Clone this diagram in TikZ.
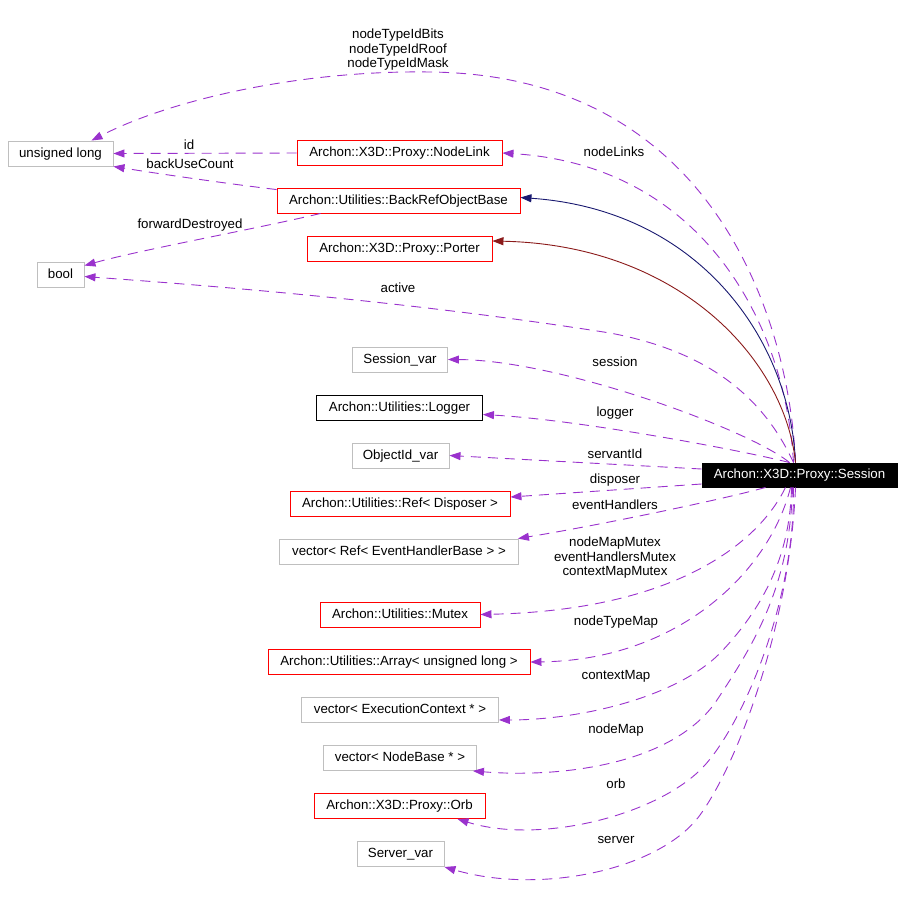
\documentclass[tikz,border=0pt]{standalone}
\usepackage{fontspec}
\setmainfont{Liberation Sans}
\usetikzlibrary{arrows.meta,calc}
\definecolor{epurple}{HTML}{9A32CD}
\definecolor{egray}{HTML}{BFBFBF}
\definecolor{ered}{HTML}{FF0000}
\definecolor{enavy}{HTML}{191970}
\definecolor{edred}{HTML}{8B1A1A}
\begin{document}
\begin{tikzpicture}[x=1pt,y=-1pt,
  every node/.style={font=\fontsize{13.3}{14.5}\selectfont},
  box/.style={draw, line width=0.9pt, minimum height=25pt, inner sep=0pt, text height=10pt, text depth=2.5pt, anchor=center},
  gbox/.style={box, draw=egray},
  rbox/.style={box, draw=ered},
  kbox/.style={box, draw=black},
  lbl/.style={inner sep=0pt, align=center},
  tip/.style={-{Triangle[length=11pt,width=8pt]}},
  use/.style={draw=epurple, line width=0.9pt, dash pattern=on 10pt off 7pt, tip},
  inhb/.style={draw=enavy, line width=0.9pt, tip},
  inhr/.style={draw=edred, line width=0.9pt, tip}
]
\useasboundingbox (0,0) rectangle (904,900);
% nodes
\node[gbox, minimum width=105pt] (ul) at (60.5,153.5) {unsigned long};
\node[rbox, minimum width=205pt] (nodelink) at (399.5,153) {Archon::X3D::Proxy::NodeLink};
\node[rbox, minimum width=243pt] (backref) at (398.5,200.5) {Archon::Utilities::BackRefObjectBase};
\node[rbox, minimum width=185pt] (porter) at (399.5,249) {Archon::X3D::Proxy::Porter};
\node[gbox, minimum width=47pt] (bool) at (60.5,274.5) {bool};
\node[gbox, minimum width=95pt] (sessvar) at (400,359.5) {Session\_var};
\node[kbox, minimum width=166pt] (logger) at (399.5,407.5) {Archon::Utilities::Logger};
\node[gbox, minimum width=97pt] (objid) at (400.5,455.5) {ObjectId\_var};
\node[rbox, minimum width=220pt] (refdisp) at (400,504) {Archon::Utilities::Ref< Disposer >};
\node[gbox, minimum width=239pt] (vecref) at (399,551.5) {vector< Ref< EventHandlerBase > >};
\node[rbox, minimum width=160pt] (mutex) at (400,614.5) {Archon::Utilities::Mutex};
\node[rbox, minimum width=262pt] (array) at (399,662) {Archon::Utilities::Array< unsigned long >};
\node[gbox, minimum width=197pt] (vecexec) at (400,710) {vector< ExecutionContext * >};
\node[gbox, minimum width=153pt] (vecnode) at (400,758) {vector< NodeBase * >};
\node[rbox, minimum width=171pt] (orb) at (399.5,806) {Archon::X3D::Proxy::Orb};
\node[gbox, minimum width=87pt] (servervar) at (400.5,854) {Server\_var};
\node[box, fill=black, text=white, minimum width=195pt, minimum height=24pt] (session) at (799.5,475) {Archon::X3D::Proxy::Session};
% labels
\node[lbl] (lntid) at (398,50) {nodeTypeIdBits\\nodeTypeIdRoof\\nodeTypeIdMask};
\node[lbl] (lid) at (189,145) {id};
\node[lbl] (lbuc) at (190,164) {backUseCount};
\node[lbl] (lfd) at (190,225) {forwardDestroyed};
\node[lbl] (lnl) at (614,152) {nodeLinks};
\node[lbl] (lact) at (398,288) {active};
\node[lbl] (lsess) at (615,362) {session};
\node[lbl] (llog) at (615,413) {logger};
\node[lbl] (lsid) at (615,454) {servantId};
\node[lbl] (ldisp) at (615,480) {disposer};
\node[lbl] (leh) at (615,505) {eventHandlers};
\node[lbl] (lmtx) at (615,558) {nodeMapMutex\\eventHandlersMutex\\contextMapMutex};
\node[lbl] (lntm) at (616,622) {nodeTypeMap};
\node[lbl] (lcm) at (616,676) {contextMap};
\node[lbl] (lnm) at (616,730) {nodeMap};
\node[lbl] (lorb) at (616,784) {orb};
\node[lbl] (lsrv) at (616,840) {server};
% edges
\draw[use] ($(session.north)+(-4,0)$) .. controls (790,330) and (720,75) .. (430,72) .. controls (300,70) and (170,100) .. ($(ul.north)+(31,0)$);
\draw[use] ($(session.north)+(-6,0)$) .. controls (785,320) and (700,165) .. (nodelink.east);
\draw[inhb] ($(session.north)+(-4,0)$) .. controls (790,340) and (700,210) .. ($(backref.east)+(0,-3)$);
\draw[inhr] ($(session.north)+(-4,0)$) .. controls (785,360) and (680,245) .. ($(porter.east)+(0,-8)$);
\draw[use] ($(session.north)+(-6,0)$) .. controls (760,390) and (700,350) .. (610,333) .. controls (400,300) and (200,285) .. ($(bool.east)+(0,2)$);
\draw[use] ($(session.north)+(-10,0)$) .. controls (750,430) and (560,360) .. (sessvar.east);
\draw[use] ($(session.north)+(-10,0)$) .. controls (740,450) and (580,420) .. ($(logger.east)+(0,7)$);
\draw[use] ($(session.west)+(0,-6)$) -- (objid.east);
\draw[use] ($(session.west)+(0,9)$) -- ($(refdisp.east)+(0,-7)$);
\draw[use] ($(session.south)+(-34,0)$) .. controls (720,500) and (600,525) .. ($(vecref.north east)+(-1,0)$);
\draw[use] ($(session.south)+(-14,0)$) .. controls (760,540) and (680,610) .. (mutex.east);
\draw[use] ($(session.south)+(-9,0)$) .. controls (770,570) and (680,660) .. (array.east);
\draw[use] ($(session.south)+(-8,0)$) .. controls (790,560) and (760,610) .. (723,650) .. controls (680,697) and (580,720) .. ($(vecexec.south east)+(0,-3)$);
\draw[use] ($(session.south)+(-7,0)$) .. controls (790,590) and (750,650) .. (715,703) .. controls (670,765) and (560,778) .. ($(vecnode.south east)+(-4,0)$);
\draw[use] ($(session.south)+(-6,0)$) .. controls (795,600) and (745,720) .. (705,765) .. controls (660,815) and (540,845) .. ($(orb.south east)+(-28,0)$);
\draw[use] ($(session.south)+(-4,0)$) .. controls (790,620) and (740,760) .. (700,815) .. controls (660,870) and (540,895) .. (servervar.south east);
\draw[use] (nodelink.west) -- (ul.east);
\draw[use] ($(backref.north west)+(0,2)$) .. controls (230,184) and (160,174) .. (ul.south east);
\draw[use] ($(backref.south)+(-78,0)$) .. controls (260,228) and (140,250) .. ($(bool.north east)+(0,4)$);
\end{tikzpicture}
\end{document}
